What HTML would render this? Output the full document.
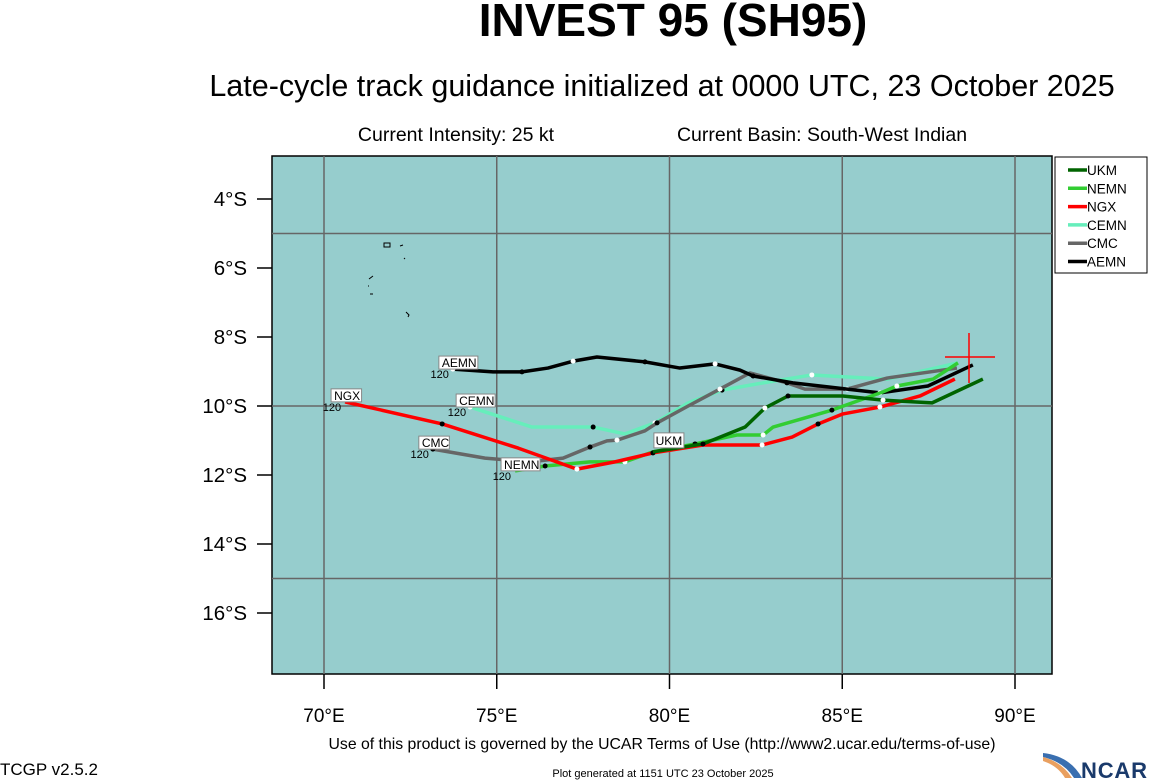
<!DOCTYPE html>
<html><head><meta charset="utf-8"><style>
body{margin:0;width:1149px;height:780px;background:#fff;overflow:hidden;font-family:"Liberation Sans",sans-serif}
svg{position:absolute;left:0;top:0}
</style></head><body>
<svg id="c" width="1149" height="780">
<text x="673" y="36" text-anchor="middle" font-size="46" font-weight="bold">INVEST 95 (SH95)</text>
<text x="662" y="96" text-anchor="middle" font-size="30.5">Late-cycle track guidance initialized at 0000 UTC, 23 October 2025</text>
<text x="456" y="141" text-anchor="middle" font-size="19.5">Current Intensity: 25 kt</text>
<text x="822" y="141" text-anchor="middle" font-size="19.5">Current Basin: South-West Indian</text>
<rect x="272" y="156" width="780" height="518" fill="#96cdcd" stroke="#000" stroke-width="1.5"/>
<g id="grid"></g><g id="axes"></g>
<g fill="none" stroke="#000" stroke-width="1">
<path d="M384 243 h6 v4 h-6z"/><path d="M400 246 l3 -1"/><path d="M404 258 l1 1"/><path d="M369 279 l4 -3 M368 286 l1 0 M370 294 l3 0"/><path d="M406 312 l3 3 l-1 2"/>
</g>
<g id="tracks"></g>
<g stroke="#f00" stroke-width="1.5"><line x1="945" y1="357" x2="995" y2="357"/><line x1="969" y1="333" x2="969" y2="383"/></g>
<g id="legend"></g>
<text x="662" y="749" text-anchor="middle" font-size="15.8">Use of this product is governed by the UCAR Terms of Use (http://www2.ucar.edu/terms-of-use)</text>
<text x="0" y="775" font-size="17">TCGP v2.5.2</text>
<text x="663" y="777" text-anchor="middle" font-size="11">Plot generated at 1151 UTC   23 October 2025</text>
<g>
<path d="M1043 753 Q1070 756 1082 778 L1074 778 Q1064 762 1043 757Z" fill="#3a6fb0"/>
<path d="M1043 757 Q1062 762 1072 778 L1065 778 Q1058 766 1043 761Z" fill="#e9a060"/>
<text x="1081" y="778" font-size="22" font-weight="bold" fill="#1a3a6b" textLength="66">NCAR</text></g>
</svg>
<script>
const lonTicks=[70,75,80,85,90];
const latTicks=[4,6,8,10,12,14,16];
const gridLats=[5,10,15];
const models=["UKM","NEMN","NGX","CEMN","CMC","AEMN"];
const colors=["#006400","#32cd32","#ff0000","#66eebb","#666666","#000000"];
const ukmLon=[89.07,87.60,86.18,85.02,83.43,83.20,82.76,82.19,80.97,79.52];
const ukmLat=[9.22,9.91,9.83,9.71,9.71,9.83,10.06,10.61,11.10,11.33];
const nemnLon=[88.35,87.63,86.58,86.18,84.70,83.00,82.71,81.95,80.74,79.52,78.71,77.70,76.40,75.53];
const nemnLat=[8.75,9.22,9.42,9.59,10.12,10.61,10.84,10.84,11.10,11.33,11.62,11.62,11.74,11.88];
const ngxLon=[88.26,87.25,86.09,85.02,84.30,83.55,82.68,80.97,79.52,78.42,77.32,75.62,73.42,70.61];
const ngxLat=[9.22,9.71,10.03,10.23,10.52,10.90,11.13,11.13,11.36,11.62,11.83,11.22,10.52,9.88];
const cemnLon=[88.35,86.30,84.12,82.71,81.52,80.54,79.58,78.71,77.79,76.02,74.23];
const cemnLat=[8.75,9.22,9.10,9.33,9.54,9.91,10.49,10.81,10.61,10.61,10.03];
const cmcLon=[88.32,86.30,85.14,83.92,83.40,82.33,81.46,80.54,79.64,79.29,78.48,78.19,77.70,76.92,75.96,74.66,73.15];
const cmcLat=[8.90,9.19,9.51,9.51,9.33,9.04,9.51,10.00,10.49,10.72,10.99,11.01,11.19,11.51,11.62,11.51,11.25];
const aemnLon=[88.78,87.48,86.09,83.57,82.42,82.04,81.32,80.30,79.29,77.90,77.21,76.48,75.73,74.89,73.73];
const aemnLat=[8.81,9.42,9.62,9.33,9.13,8.96,8.78,8.90,8.72,8.58,8.70,8.90,9.01,9.01,8.93];
const X=lon=>324+(lon-70)*34.55, Y=lat=>199+(lat-4)*34.5;
const NS="http://www.w3.org/2000/svg";
function mk(t,a,p){const e=document.createElementNS(NS,t);for(const k in a)e.setAttribute(k,a[k]);p.appendChild(e);return e;}
const grid=document.getElementById('grid'),axes=document.getElementById('axes');
lonTicks.forEach(l=>{const x=X(l);
 const g=mk('line',{x1:x,y1:156,x2:x,y2:674,stroke:'#666','stroke-width':1.5},grid);
 
 
 mk('line',{x1:x,y1:674,x2:x,y2:689,stroke:'#000','stroke-width':1.5},axes);
 const t=mk('text',{x:x,y:722,'text-anchor':'middle','font-size':19},axes);t.textContent=l+'°E';
 
 });
gridLats.forEach(l=>{const y=Y(l);
 const g=mk('line',{x1:272,y1:y,x2:1052,y2:y,stroke:'#666','stroke-width':1.5},grid);
 
 });
latTicks.forEach(l=>{const y=Y(l);
 mk('line',{x1:257,y1:y,x2:272,y2:y,stroke:'#000','stroke-width':1.5},axes);
 const t=mk('text',{x:247,y:y+7,'text-anchor':'end','font-size':20.5},axes);t.textContent=l+'°S';
 
 });
const tr=document.getElementById('tracks');
const lons=[ukmLon,nemnLon,ngxLon,cemnLon,cmcLon,aemnLon],lats=[ukmLat,nemnLat,ngxLat,cemnLat,cmcLat,aemnLat];
[3,4,5,1,2,0].forEach(i=>{
 const pts=lons[i].map((v,j)=>X(v)+','+Y(lats[i][j])).join(' ');
 const p=mk('polyline',{points:pts,fill:'none',stroke:colors[i],'stroke-width':3.5,'stroke-linejoin':'round'},tr);
 
 
 lons[i].forEach((v,j)=>{if(j>0&&j%2==0){const d=mk('circle',{cx:X(v),cy:Y(lats[i][j]),r:2.5,fill:j%4==0?'#000':'#fff'},tr);
  
  }});
});
[0,1,2,3,4,5].forEach(i=>{if(i==0){const x=X(ukmLon[ukmLon.length-1]),y=Y(ukmLat[ukmLat.length-1]);
 const r=mk('rect',{x:x+1,y:y-19,width:30,height:15,fill:'#fff',stroke:'#888'},tr);
 
 
 const t=mk('text',{x:x+16,y:y-7,'text-anchor':'middle','font-size':12},tr);t.textContent='UKM';return;}
 const L=lons[i],A=lats[i],n=L.length-1,x=X(L[n]),y=Y(A[n]);
 const w=models[i].length*8.5+5;
 const r=mk('rect',{x:x-14,y:y-13,width:w,height:13,fill:'#fff',stroke:'#888'},tr);
 
 
 const t=mk('text',{x:x-11,y:y-2,'font-size':12},tr);t.textContent=models[i];
 const t2=mk('text',{x:x-4,y:y+9,'text-anchor':'end','font-size':11},tr);t2.textContent='120';
});
const lg=document.getElementById('legend');
const lr=mk('rect',{x:1055,y:157,width:92,height:116,fill:'#fff',stroke:'#000'},lg);


models.forEach((m,i)=>{const y=170+i*18.3;
 const l=mk('line',{x1:1068,y1:y,x2:1087,y2:y,stroke:colors[i],'stroke-width':3.5},lg);
 
 
 const t=mk('text',{x:1087,y:y+5,'font-size':13.5},lg);t.textContent=m;});
</script>
</body></html>
